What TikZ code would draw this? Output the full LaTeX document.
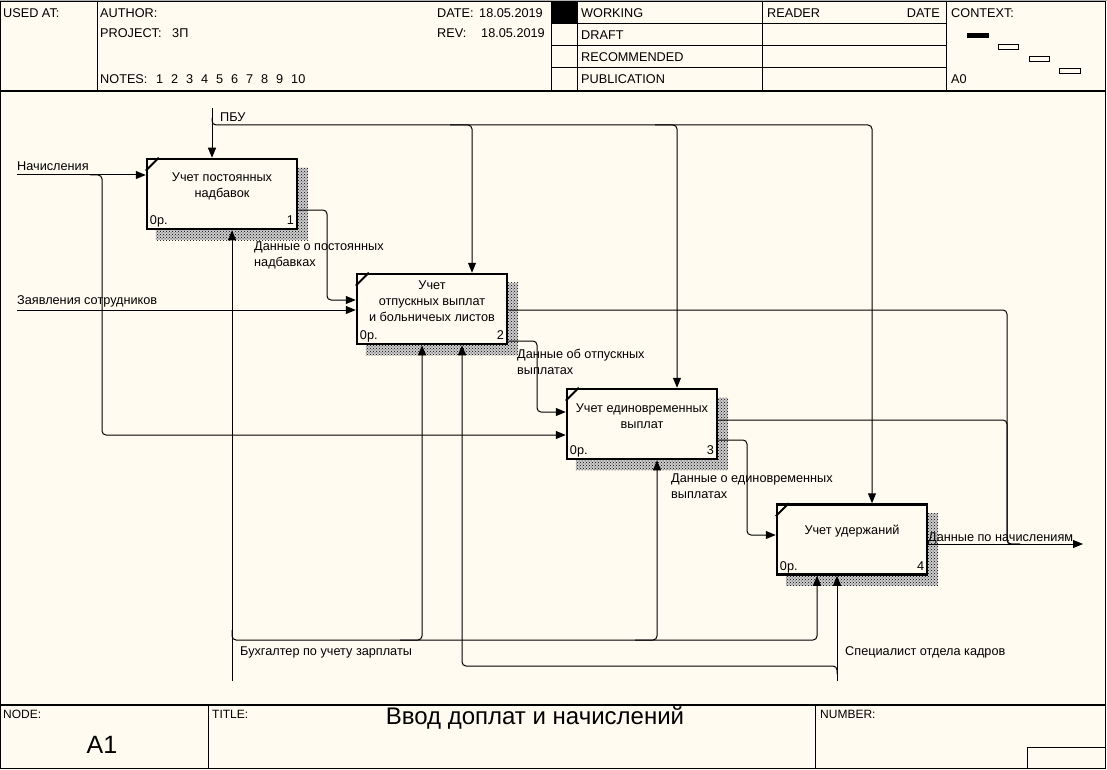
\documentclass[tikz,border=0pt]{standalone}
\usepackage{fontspec}
\setmainfont{Liberation Sans}
\usetikzlibrary{arrows.meta,patterns}
\definecolor{bg}{RGB}{255,251,240}
\pgfdeclarelayer{bglayer}
\pgfdeclarelayer{shadowlayer}
\pgfsetlayers{bglayer,shadowlayer,main}
\begin{document}
\begin{tikzpicture}[x=1pt,y=-1pt,
  font=\fontsize{12.7}{16}\selectfont,
  frame/.style={line width=1pt},
  heavy/.style={line width=2pt},
  funcbox/.style={draw, line width=2.5pt, fill=bg, minimum width=150pt, minimum height=70pt, inner sep=0pt},
  boxtext/.style={align=center, inner sep=0pt},
  conn/.style={line width=1pt, rounded corners=4pt},
  arr/.style={conn, -{Triangle[length=10pt,width=8pt]}},
  lab/.style={anchor=base west, inner sep=0pt},
  labe/.style={anchor=base east, inner sep=0pt},
  shade/.style={fill=black!20, postaction={pattern=crosshatch dots, pattern color=black}},
  small/.style={font=\fontsize{12}{14}\selectfont}
]
\useasboundingbox (0,0) rectangle (1107,770);
\begin{pgfonlayer}{bglayer}
\fill[bg] (0,0) rectangle (1107,770);
\end{pgfonlayer}

% ---------- frame ----------
\draw[gray!60, line width=1.5pt] (0,0.75) -- (1107,0.75);
\draw[frame] (0.5,1.5) rectangle (1105,768);
\draw[heavy] (0,91) -- (1105,91);
\draw[heavy] (0,705) -- (1105,705);
\foreach \x in {97,551,577,762,946} \draw[frame] (\x,1.5) -- (\x,91);
\foreach \y in {24,46,68} \draw[frame] (551,\y) -- (946,\y);
\fill[black] (551,1.5) rectangle (577,24);
\draw[frame] (208,705) -- (208,768);
\draw[frame] (815,705) -- (815,768);
\draw[frame] (1027,747) rectangle (1105,768);

% ---------- header text ----------
\node[lab] (usedat) at (3,17.5) {USED AT:};
\node[lab] (author) at (100,17.5) {AUTHOR:};
\node[lab] (project) at (100,37.5) {PROJECT:};
\node[lab] (projv) at (172,37.5) {3П};
\node[lab] (notes) at (100,83.5) {NOTES:};
\foreach \n in {1,...,10} \node[lab] (note\n) at ({156+15*(\n-1)},83.5) {\n};
\node[lab] (date) at (437,17.5) {DATE:};
\node[lab] (datev) at (479,17.5) {18.05.2019};
\node[lab] (rev) at (437,37.5) {REV:};
\node[lab] (revv) at (481,37.5) {18.05.2019};
\node[lab] (working) at (581,17.5) {WORKING};
\node[lab] (draft) at (581,39.5) {DRAFT};
\node[lab] (recom) at (581,61.5) {RECOMMENDED};
\node[lab] (publ) at (581,83.5) {PUBLICATION};
\node[lab] (reader) at (767,17.5) {READER};
\node[labe] (rdate) at (940,17.5) {DATE};
\node[lab] (context) at (951,17.5) {CONTEXT:};
\node[lab] (a0) at (951,83.5) {A0};
\fill[black] (967,33) rectangle (989,38.5);
\draw[frame] (998,44.5) rectangle (1018,50);
\draw[frame] (1029,56.5) rectangle (1049,62);
\draw[frame] (1059,68.5) rectangle (1080,74);

% ---------- footer text ----------
\node[lab, small] (nodel) at (3,718) {NODE:};
\node[lab, small] (titlel) at (212,718) {TITLE:};
\node[lab, small] (numl) at (820,718) {NUMBER:};
\node[inner sep=0pt, font=\fontsize{25}{28}\selectfont] (nodev) at (102,745) {A1};
\node[inner sep=0pt, font=\fontsize{24}{28}\selectfont] (title) at (535,718) {Ввод доплат и начислений};

% ---------- function boxes ----------
\node[funcbox] (b1) at (222,194) {};
\node[funcbox] (b2) at (432,309) {};
\node[funcbox] (b3) at (642,424) {};
\node[funcbox] (b4) at (852,539.5) {};

\begin{pgfonlayer}{shadowlayer}
\foreach \b in {b1,b2,b3,b4}
  \path[shade] ([shift={(10,10)}]\b.north west) rectangle ([shift={(10,10)}]\b.south east);
\end{pgfonlayer}

\foreach \b/\n in {b1/1,b2/2,b3/3,b4/4}{
  \draw[line width=2pt] (\b.north west) ++(0,13) -- ++(13,-13);
  \node[lab] (\b op) at ([shift={(4,-5.5)}]\b.south west) {0р.};
  \node[labe] (\b num) at ([shift={(-4,-5.5)}]\b.south east) {\n};
}
\node[boxtext] (b1t) at (222,186) {Учет постоянных\\надбавок};
\node[boxtext] (b2t) at (432,301) {Учет\\отпускных выплат\\и больничеых листов};
\node[boxtext] (b3t) at (642,416) {Учет единовременных\\выплат};
\node[boxtext] (b4t) at (852,531) {Учет удержаний};

% ---------- free ends ----------
\coordinate (pbu) at (212,108);
\coordinate (nach) at (17,175);
\coordinate (zayav) at (17,310);
\coordinate (buh) at (232,681);
\coordinate (spec) at (837,681);
\coordinate (out) at (1083,544);

% ---------- controls ----------
\draw[arr] (pbu) -- (pbu |- b1.north);
\draw[arr] (212,118) |- (872,125) -- (872,0 |- b4.north);
\draw[arr] (450,125) -| (472,0 |- b2.north);
\draw[arr] (655,125) -| (677,0 |- b3.north);

% ---------- inputs ----------
\draw[arr] (nach) -- (nach -| b1.west);
\draw[arr] (90,175) -| (102,435) -- (b3.west |- 0,435);
\draw[arr] (zayav) -- (zayav -| b2.west);
\draw[arr] (b1.east |- 0,210) -| (327,300) -- (b2.west |- 0,300);
\draw[arr] (b2.east |- 0,341) -| (537,412) -- (b3.west |- 0,412);
\draw[arr] (b3.east |- 0,440) -| (747,535) -- (b4.west |- 0,535);

% ---------- outputs ----------
\draw[conn] (b2.east |- 0,310) -| (1007,544) -- (1020,544);
\draw[conn] (b3.east |- 0,420) -| (1007,544) -- (1020,544);
\draw[arr] (b4.east |- 0,544) -- (out);

% ---------- mechanisms ----------
\draw[arr] (buh) -- (buh |- b1.south);
\draw[arr] (232,630) |- (817,640) -- (817,0 |- b4.south);
\draw[arr] (400,640) -| (422,0 |- b2.south);
\draw[arr] (635,640) -| (657,0 |- b3.south);
\draw[arr] (spec) -- (spec |- b4.south);
\draw[arr] (837,674) |- (462,666) -- (462,0 |- b2.south);

% ---------- arrow labels ----------
\node[lab] (lpbu) at (220,121.5) {ПБУ};
\node[lab] (lnach) at (17,170.5) {Начисления};
\node[lab] (lzay) at (17,304.5) {Заявления сотрудников};
\node[lab, align=left] (ld1) at (254,266.5) {Данные о постоянных\\надбавках};
\node[lab, align=left] (ld2) at (517,374.5) {Данные об отпускных\\выплатах};
\node[lab, align=left] (ld3) at (671,498.5) {Данные о единовременных\\выплатах};
\node[lab] (ld4) at (928,541.5) {Данные по начислениям};
\node[lab] (lbuh) at (240,655.5) {Бухгалтер по учету зарплаты};
\node[lab] (lspec) at (845,655.5) {Специалист отдела кадров};
\end{tikzpicture}
\end{document}
